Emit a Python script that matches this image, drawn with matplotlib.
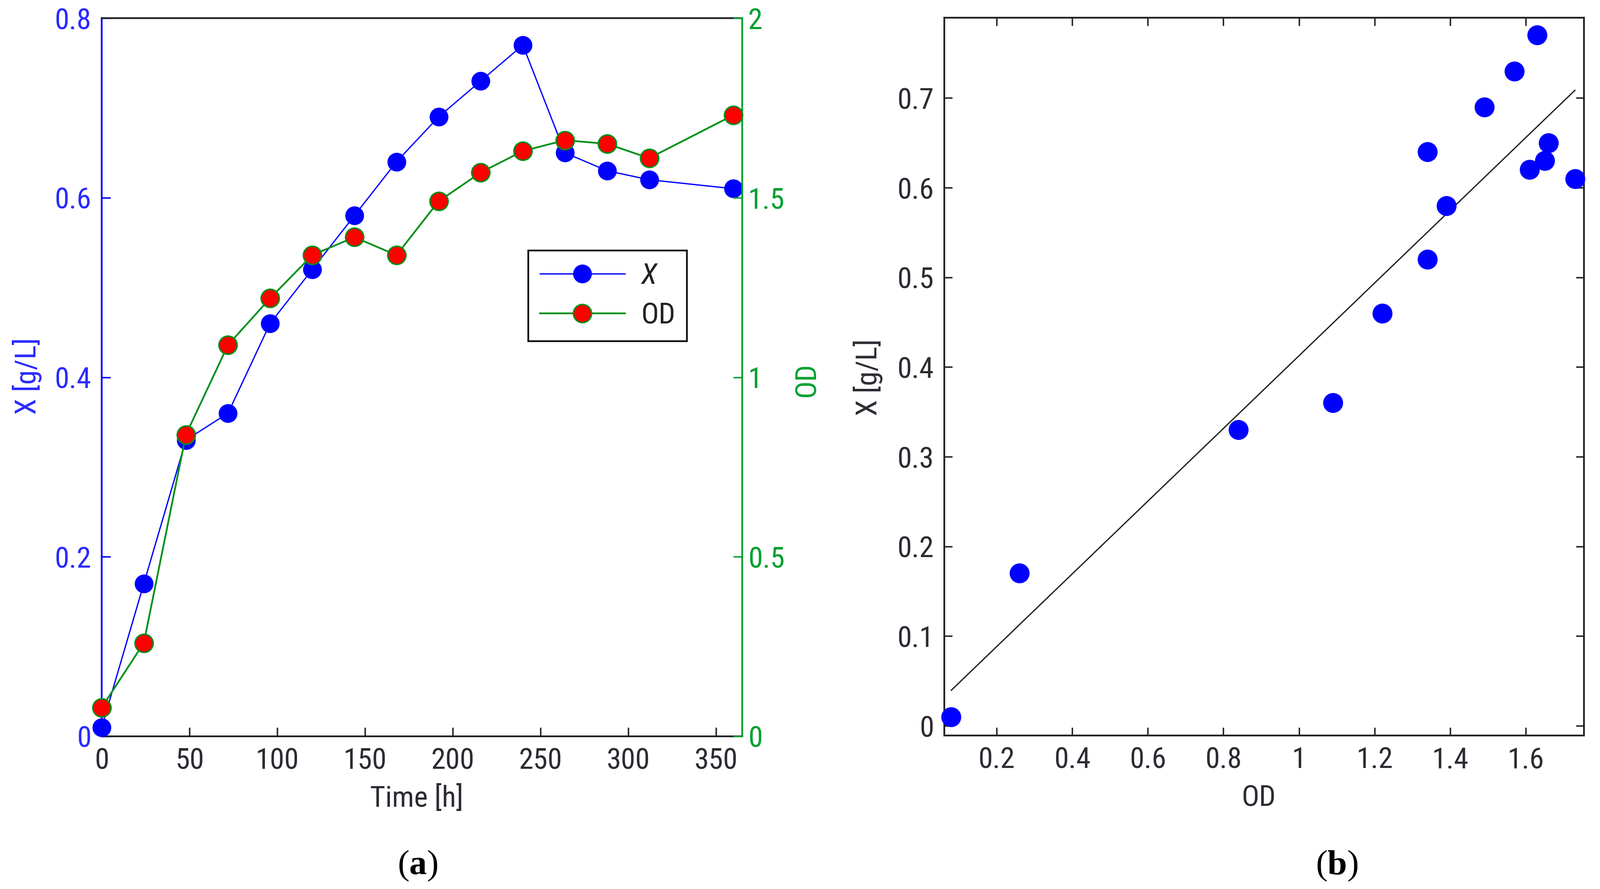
import numpy as np
import matplotlib
matplotlib.use("Agg")
import matplotlib.pyplot as plt
from matplotlib import font_manager as fm
from matplotlib.ticker import FuncFormatter

# ---------------- data ----------------
time_h = [0, 24, 48, 72, 96, 120, 144, 168, 192, 216, 240, 264, 288, 312, 360]
biomass_X = [0.01, 0.17, 0.33, 0.36, 0.46, 0.52, 0.58, 0.64, 0.69, 0.73, 0.77, 0.65, 0.63, 0.62, 0.61]
optical_density = [0.08, 0.26, 0.84, 1.09, 1.22, 1.34, 1.39, 1.34, 1.49, 1.57, 1.63, 1.66, 1.65, 1.61, 1.73]

time_ticks = [0, 50, 100, 150, 200, 250, 300, 350]
x_ticks_left = [0, 0.2, 0.4, 0.6, 0.8]
od_ticks_right = [0, 0.5, 1, 1.5, 2]
od_ticks_b = [0.2, 0.4, 0.6, 0.8, 1.0, 1.2, 1.4, 1.6]
x_ticks_b = [0, 0.1, 0.2, 0.3, 0.4, 0.5, 0.6, 0.7]

# ---------------- style ----------------
names = {f.name for f in fm.fontManager.ttflist}
SANS, TS = 'Liberation Sans', 46
for cand, size in (('Liberation Sans Narrow', 50), ('Roboto Condensed', 50)):
    if cand in names:
        SANS, TS = cand, size
        break
plt.rcParams['font.family'] = [SANS, 'DejaVu Sans']
plt.rcParams['mathtext.fontset'] = 'custom'
plt.rcParams['mathtext.rm'] = 'Liberation Serif'
plt.rcParams['mathtext.bf'] = 'Liberation Serif:bold'

BLUE = '#0000ff'
BLUE_TXT = '#2a2aff'
GREEN_LINE = '#00901a'
GREEN_AX = '#00a030'
DARK = '#2e2a33'

W, H = 3792, 2108
fig = plt.figure(figsize=(W / 100, H / 100), dpi=100)
fmt = FuncFormatter(lambda v, p: '%g' % round(v, 6))

# ---------------- panel (a) ----------------
ax = fig.add_axes([241 / W, 1 - 1746 / H, (1759 - 241) / W, (1746 - 43) / H])
ax2 = ax.twinx()

l1, = ax.plot(time_h, biomass_X, '-o', color=BLUE, lw=2.2, ms=31,
              mfc=BLUE, mec=BLUE, clip_on=False, zorder=3)
l2, = ax2.plot(time_h, optical_density, '-o', color=GREEN_LINE, lw=3, ms=31,
               mfc='#ff0000', mec=GREEN_LINE, mew=2.5, clip_on=False, zorder=3)

ax.set_xlim(0, 365)
ax.set_ylim(0, 0.8)
ax2.set_ylim(0, 2)
ax.set_xticks(time_ticks)
ax.set_yticks(x_ticks_left)
ax2.set_yticks(od_ticks_right)
for a in (ax, ax2):
    a.xaxis.set_major_formatter(fmt)
    a.yaxis.set_major_formatter(fmt)

ax.tick_params(axis='x', direction='in', length=15, width=2.5, color='#222222',
               labelcolor=DARK, labelsize=TS, pad=18)
ax.tick_params(axis='y', direction='in', length=15, width=2.5, color=BLUE,
               labelcolor=BLUE_TXT, labelsize=TS, pad=18)
ax2.tick_params(axis='y', direction='in', length=15, width=2.5, color=GREEN_AX,
                labelcolor=GREEN_AX, labelsize=TS, pad=10)

for s in ('top', 'bottom'):
    ax.spines[s].set_color('#222222')
    ax.spines[s].set_linewidth(3)
ax.spines['left'].set_color(BLUE)
ax.spines['left'].set_linewidth(3)
ax.spines['right'].set_visible(False)
for s in ('top', 'bottom', 'left'):
    ax2.spines[s].set_visible(False)
ax2.spines['right'].set_color(GREEN_AX)
ax2.spines['right'].set_linewidth(3)

ax.set_xlabel('Time [h]', fontsize=TS, color=DARK, va='top')
ax.xaxis.set_label_coords(0.492, -0.0675)
ax.set_ylabel('X [g/L]', fontsize=TS, color=BLUE_TXT, va='center', ha='center')
ax.yaxis.set_label_coords(-0.117, 0.5015)
ax2.set_ylabel('OD', fontsize=TS, color=GREEN_AX, va='center', ha='center')
ax2.yaxis.set_label_coords(1.1008, 0.4968)

leg = ax2.legend([l1, l2], ['X', 'OD'], loc='upper left',
                 bbox_to_anchor=(0.666, 0.6765), borderaxespad=0,
                 fontsize=TS, frameon=True, fancybox=False,
                 edgecolor='#111111', framealpha=1, handlelength=2.9,
                 handletextpad=0.55, labelspacing=0.41, borderpad=0.4)
leg.get_frame().set_linewidth(3)
leg.get_texts()[0].set_style('italic')
for t in leg.get_texts():
    t.set_color('#222222')

# ---------------- panel (b) ----------------
bx = fig.add_axes([2238 / W, 1 - 1744 / H, (3754 - 2238) / W, (1744 - 42) / H])
bx.plot(optical_density, biomass_X, 'o', ls='none', ms=33, color=BLUE,
        mfc=BLUE, mec=BLUE, clip_on=False, zorder=3)
coef = np.polyfit(optical_density, biomass_X, 1)
od_sorted = np.sort(np.array(optical_density))
bx.plot(od_sorted, np.polyval(coef, od_sorted), color='#222222', lw=2.2, zorder=2)

bx.set_xlim(0.0616, 1.754)
bx.set_ylim(-0.0108, 0.7895)
bx.set_xticks(od_ticks_b)
bx.set_yticks(x_ticks_b)
bx.xaxis.set_major_formatter(fmt)
bx.yaxis.set_major_formatter(fmt)
bx.tick_params(axis='both', which='both', direction='in', length=14, width=2.5,
               color='#222222', labelcolor=DARK, labelsize=TS, pad=18,
               top=True, right=True)
for s in bx.spines.values():
    s.set_color('#222222')
    s.set_linewidth(3)
bx.set_xlabel('OD', fontsize=TS, color=DARK, va='top')
bx.xaxis.set_label_coords(0.4914, -0.0676)
bx.set_ylabel('X [g/L]', fontsize=TS, color=DARK, va='center', ha='center')
bx.yaxis.set_label_coords(-0.1194, 0.4988)

# ---------------- captions ----------------
fig.text(990 / W, 1 - 2053 / H, r'$\mathrm{(}\mathbf{a}\mathrm{)}$', fontsize=60,
         ha='center', va='center', color='black')
fig.text(3168 / W, 1 - 2053 / H, r'$\mathrm{(}\mathbf{b}\mathrm{)}$', fontsize=60,
         ha='center', va='center', color='black')

fig.savefig('out.png', dpi=100, facecolor='white')
